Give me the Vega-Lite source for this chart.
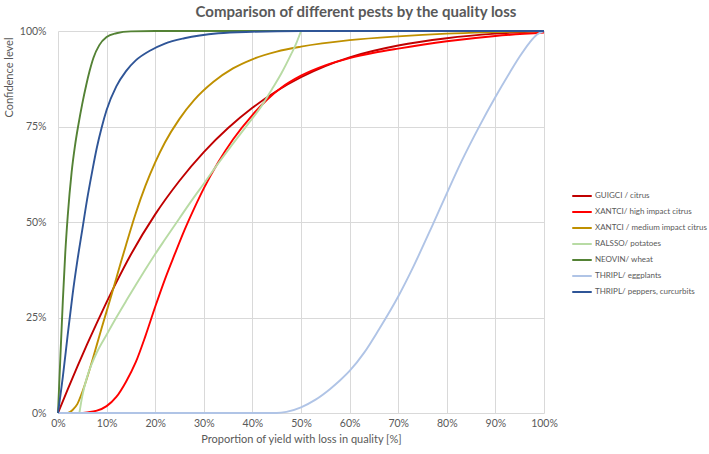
{
  "$schema": "https://vega.github.io/schema/vega-lite/v6.json",
  "width": 486,
  "height": 382,
  "autosize": {"type": "none"},
  "padding": {"left": 58, "top": 31, "right": 165, "bottom": 41},
  "background": "white",
  "config": {"font": "Lato", "view": {"stroke": null}},
  "title": {"text": "Comparison of different pests by the quality loss", "fontSize": 15, "fontWeight": "bold", "color": "#595959", "anchor": "middle", "dx": 55, "offset": 6},
  "datasets": {
    "curves": [
      {"s": "GUIGCI / citrus", "x": 0, "y": 0},
      {"s": "GUIGCI / citrus", "x": 2, "y": 6.2},
      {"s": "GUIGCI / citrus", "x": 4, "y": 12.2},
      {"s": "GUIGCI / citrus", "x": 6, "y": 18},
      {"s": "GUIGCI / citrus", "x": 8, "y": 23.6},
      {"s": "GUIGCI / citrus", "x": 10, "y": 29},
      {"s": "GUIGCI / citrus", "x": 12, "y": 34.2},
      {"s": "GUIGCI / citrus", "x": 15, "y": 41.5},
      {"s": "GUIGCI / citrus", "x": 20, "y": 52},
      {"s": "GUIGCI / citrus", "x": 25, "y": 60.8},
      {"s": "GUIGCI / citrus", "x": 30, "y": 68.3},
      {"s": "GUIGCI / citrus", "x": 35, "y": 74.6},
      {"s": "GUIGCI / citrus", "x": 40, "y": 79.9},
      {"s": "GUIGCI / citrus", "x": 45, "y": 84.3},
      {"s": "GUIGCI / citrus", "x": 50, "y": 87.9},
      {"s": "GUIGCI / citrus", "x": 55, "y": 90.8},
      {"s": "GUIGCI / citrus", "x": 60, "y": 93.1},
      {"s": "GUIGCI / citrus", "x": 70, "y": 96.2},
      {"s": "GUIGCI / citrus", "x": 80, "y": 98.1},
      {"s": "GUIGCI / citrus", "x": 90, "y": 99.3},
      {"s": "GUIGCI / citrus", "x": 100, "y": 100},

      {"s": "XANTCI/ high impact citrus", "x": 0, "y": 0},
      {"s": "XANTCI/ high impact citrus", "x": 4.5, "y": 0},
      {"s": "XANTCI/ high impact citrus", "x": 6, "y": 0.15},
      {"s": "XANTCI/ high impact citrus", "x": 8, "y": 0.6},
      {"s": "XANTCI/ high impact citrus", "x": 10, "y": 1.8},
      {"s": "XANTCI/ high impact citrus", "x": 12, "y": 4.2},
      {"s": "XANTCI/ high impact citrus", "x": 14, "y": 8.2},
      {"s": "XANTCI/ high impact citrus", "x": 16, "y": 13.3},
      {"s": "XANTCI/ high impact citrus", "x": 18, "y": 20.2},
      {"s": "XANTCI/ high impact citrus", "x": 20, "y": 27.8},
      {"s": "XANTCI/ high impact citrus", "x": 22, "y": 35},
      {"s": "XANTCI/ high impact citrus", "x": 24, "y": 41.5},
      {"s": "XANTCI/ high impact citrus", "x": 26, "y": 47.8},
      {"s": "XANTCI/ high impact citrus", "x": 28, "y": 53.5},
      {"s": "XANTCI/ high impact citrus", "x": 30, "y": 58.8},
      {"s": "XANTCI/ high impact citrus", "x": 33, "y": 65.7},
      {"s": "XANTCI/ high impact citrus", "x": 36, "y": 71.6},
      {"s": "XANTCI/ high impact citrus", "x": 40, "y": 78},
      {"s": "XANTCI/ high impact citrus", "x": 43, "y": 82},
      {"s": "XANTCI/ high impact citrus", "x": 46, "y": 85.2},
      {"s": "XANTCI/ high impact citrus", "x": 50, "y": 88.3},
      {"s": "XANTCI/ high impact citrus", "x": 55, "y": 91},
      {"s": "XANTCI/ high impact citrus", "x": 60, "y": 92.9},
      {"s": "XANTCI/ high impact citrus", "x": 65, "y": 94.3},
      {"s": "XANTCI/ high impact citrus", "x": 70, "y": 95.4},
      {"s": "XANTCI/ high impact citrus", "x": 80, "y": 97.3},
      {"s": "XANTCI/ high impact citrus", "x": 90, "y": 98.7},
      {"s": "XANTCI/ high impact citrus", "x": 100, "y": 99.6},

      {"s": "XANTCI / medium impact citrus", "x": 0, "y": 0},
      {"s": "XANTCI / medium impact citrus", "x": 2, "y": 0},
      {"s": "XANTCI / medium impact citrus", "x": 3, "y": 0.8},
      {"s": "XANTCI / medium impact citrus", "x": 4, "y": 2.4},
      {"s": "XANTCI / medium impact citrus", "x": 5, "y": 5.5},
      {"s": "XANTCI / medium impact citrus", "x": 6, "y": 9.3},
      {"s": "XANTCI / medium impact citrus", "x": 7, "y": 13.5},
      {"s": "XANTCI / medium impact citrus", "x": 8, "y": 17.9},
      {"s": "XANTCI / medium impact citrus", "x": 9, "y": 22.3},
      {"s": "XANTCI / medium impact citrus", "x": 10, "y": 26.6},
      {"s": "XANTCI / medium impact citrus", "x": 11, "y": 30.9},
      {"s": "XANTCI / medium impact citrus", "x": 12, "y": 35.3},
      {"s": "XANTCI / medium impact citrus", "x": 13, "y": 39.7},
      {"s": "XANTCI / medium impact citrus", "x": 14, "y": 44},
      {"s": "XANTCI / medium impact citrus", "x": 16, "y": 52.3},
      {"s": "XANTCI / medium impact citrus", "x": 18, "y": 59.5},
      {"s": "XANTCI / medium impact citrus", "x": 20, "y": 65.6},
      {"s": "XANTCI / medium impact citrus", "x": 22, "y": 70.8},
      {"s": "XANTCI / medium impact citrus", "x": 25, "y": 77},
      {"s": "XANTCI / medium impact citrus", "x": 28, "y": 81.9},
      {"s": "XANTCI / medium impact citrus", "x": 32, "y": 86.7},
      {"s": "XANTCI / medium impact citrus", "x": 36, "y": 90.2},
      {"s": "XANTCI / medium impact citrus", "x": 40, "y": 92.6},
      {"s": "XANTCI / medium impact citrus", "x": 45, "y": 94.6},
      {"s": "XANTCI / medium impact citrus", "x": 50, "y": 95.9},
      {"s": "XANTCI / medium impact citrus", "x": 60, "y": 97.6},
      {"s": "XANTCI / medium impact citrus", "x": 70, "y": 98.6},
      {"s": "XANTCI / medium impact citrus", "x": 80, "y": 99.3},
      {"s": "XANTCI / medium impact citrus", "x": 90, "y": 99.7},
      {"s": "XANTCI / medium impact citrus", "x": 100, "y": 100},

      {"s": "RALSSO/ potatoes", "x": 4.4, "y": 0},
      {"s": "RALSSO/ potatoes", "x": 5, "y": 4.5},
      {"s": "RALSSO/ potatoes", "x": 6, "y": 9.5},
      {"s": "RALSSO/ potatoes", "x": 7, "y": 13},
      {"s": "RALSSO/ potatoes", "x": 8, "y": 15.9},
      {"s": "RALSSO/ potatoes", "x": 10, "y": 20.5},
      {"s": "RALSSO/ potatoes", "x": 12, "y": 25},
      {"s": "RALSSO/ potatoes", "x": 14, "y": 29.3},
      {"s": "RALSSO/ potatoes", "x": 16, "y": 33.5},
      {"s": "RALSSO/ potatoes", "x": 18, "y": 37.6},
      {"s": "RALSSO/ potatoes", "x": 20, "y": 41.6},
      {"s": "RALSSO/ potatoes", "x": 22, "y": 45.4},
      {"s": "RALSSO/ potatoes", "x": 25, "y": 51},
      {"s": "RALSSO/ potatoes", "x": 28, "y": 56.5},
      {"s": "RALSSO/ potatoes", "x": 30, "y": 60},
      {"s": "RALSSO/ potatoes", "x": 33, "y": 65.4},
      {"s": "RALSSO/ potatoes", "x": 36, "y": 70.5},
      {"s": "RALSSO/ potatoes", "x": 39, "y": 75.5},
      {"s": "RALSSO/ potatoes", "x": 42, "y": 80.6},
      {"s": "RALSSO/ potatoes", "x": 44, "y": 84.7},
      {"s": "RALSSO/ potatoes", "x": 46, "y": 89},
      {"s": "RALSSO/ potatoes", "x": 48, "y": 94},
      {"s": "RALSSO/ potatoes", "x": 49, "y": 96.7},
      {"s": "RALSSO/ potatoes", "x": 50, "y": 100},

      {"s": "NEOVIN/ wheat", "x": 0, "y": 0},
      {"s": "NEOVIN/ wheat", "x": 0.5, "y": 15},
      {"s": "NEOVIN/ wheat", "x": 1, "y": 29.5},
      {"s": "NEOVIN/ wheat", "x": 1.5, "y": 42},
      {"s": "NEOVIN/ wheat", "x": 2, "y": 51.5},
      {"s": "NEOVIN/ wheat", "x": 2.8, "y": 63},
      {"s": "NEOVIN/ wheat", "x": 3.5, "y": 70},
      {"s": "NEOVIN/ wheat", "x": 4.2, "y": 75.5},
      {"s": "NEOVIN/ wheat", "x": 5, "y": 81},
      {"s": "NEOVIN/ wheat", "x": 5.8, "y": 85.8},
      {"s": "NEOVIN/ wheat", "x": 6.5, "y": 89.5},
      {"s": "NEOVIN/ wheat", "x": 7.3, "y": 93},
      {"s": "NEOVIN/ wheat", "x": 8.5, "y": 96.3},
      {"s": "NEOVIN/ wheat", "x": 10, "y": 98.4},
      {"s": "NEOVIN/ wheat", "x": 12, "y": 99.4},
      {"s": "NEOVIN/ wheat", "x": 15, "y": 99.9},
      {"s": "NEOVIN/ wheat", "x": 20, "y": 100},
      {"s": "NEOVIN/ wheat", "x": 100, "y": 100},

      {"s": "THRIPL/ eggplants", "x": 0, "y": 0},
      {"s": "THRIPL/ eggplants", "x": 45, "y": 0},
      {"s": "THRIPL/ eggplants", "x": 47, "y": 0.3},
      {"s": "THRIPL/ eggplants", "x": 50, "y": 1.5},
      {"s": "THRIPL/ eggplants", "x": 53, "y": 3.5},
      {"s": "THRIPL/ eggplants", "x": 56, "y": 6.3},
      {"s": "THRIPL/ eggplants", "x": 58, "y": 8.5},
      {"s": "THRIPL/ eggplants", "x": 60, "y": 11},
      {"s": "THRIPL/ eggplants", "x": 63, "y": 15.8},
      {"s": "THRIPL/ eggplants", "x": 66, "y": 21.8},
      {"s": "THRIPL/ eggplants", "x": 70, "y": 30.5},
      {"s": "THRIPL/ eggplants", "x": 73, "y": 38},
      {"s": "THRIPL/ eggplants", "x": 77, "y": 49},
      {"s": "THRIPL/ eggplants", "x": 80, "y": 57.5},
      {"s": "THRIPL/ eggplants", "x": 83, "y": 65.8},
      {"s": "THRIPL/ eggplants", "x": 86.8, "y": 75.3},
      {"s": "THRIPL/ eggplants", "x": 90, "y": 82.7},
      {"s": "THRIPL/ eggplants", "x": 93, "y": 89.2},
      {"s": "THRIPL/ eggplants", "x": 95, "y": 93.3},
      {"s": "THRIPL/ eggplants", "x": 97, "y": 96.9},
      {"s": "THRIPL/ eggplants", "x": 98.5, "y": 99},
      {"s": "THRIPL/ eggplants", "x": 100, "y": 100},

      {"s": "THRIPL/ peppers, curcurbits", "x": 0, "y": 0},
      {"s": "THRIPL/ peppers, curcurbits", "x": 1, "y": 9.5},
      {"s": "THRIPL/ peppers, curcurbits", "x": 2, "y": 20.5},
      {"s": "THRIPL/ peppers, curcurbits", "x": 3, "y": 31},
      {"s": "THRIPL/ peppers, curcurbits", "x": 4, "y": 40},
      {"s": "THRIPL/ peppers, curcurbits", "x": 5, "y": 48},
      {"s": "THRIPL/ peppers, curcurbits", "x": 6, "y": 56},
      {"s": "THRIPL/ peppers, curcurbits", "x": 7, "y": 63},
      {"s": "THRIPL/ peppers, curcurbits", "x": 8, "y": 69.5},
      {"s": "THRIPL/ peppers, curcurbits", "x": 9, "y": 74.8},
      {"s": "THRIPL/ peppers, curcurbits", "x": 10, "y": 79.3},
      {"s": "THRIPL/ peppers, curcurbits", "x": 12, "y": 85.5},
      {"s": "THRIPL/ peppers, curcurbits", "x": 14, "y": 89.5},
      {"s": "THRIPL/ peppers, curcurbits", "x": 16, "y": 92.3},
      {"s": "THRIPL/ peppers, curcurbits", "x": 19, "y": 94.9},
      {"s": "THRIPL/ peppers, curcurbits", "x": 22, "y": 96.7},
      {"s": "THRIPL/ peppers, curcurbits", "x": 26, "y": 98.1},
      {"s": "THRIPL/ peppers, curcurbits", "x": 33, "y": 99.4},
      {"s": "THRIPL/ peppers, curcurbits", "x": 40, "y": 99.8},
      {"s": "THRIPL/ peppers, curcurbits", "x": 50, "y": 100},
      {"s": "THRIPL/ peppers, curcurbits", "x": 100, "y": 100}
    ]
  },
  "data": {"name": "curves"},
  "mark": {"type": "line", "interpolate": "monotone", "strokeWidth": 1.9},
  "encoding": {
    "x": {
      "field": "x", "type": "quantitative",
      "scale": {"domain": [0, 100], "nice": false, "zero": true},
      "axis": {
        "values": [0, 10, 20, 30, 40, 50, 60, 70, 80, 90, 100],
        "labelExpr": "datum.value + '%'",
        "labelFlush": false,
        "title": "Proportion of yield with loss in quality [%]",
        "grid": true, "gridColor": "#d9d9d9", "gridWidth": 1,
        "domain": false, "ticks": false,
        "labelPadding": 5, "labelFontSize": 10.5, "labelColor": "#595959",
        "titleColor": "#595959", "titleFontSize": 11, "titleFontWeight": "normal", "titlePadding": 5
      }
    },
    "y": {
      "field": "y", "type": "quantitative",
      "scale": {"domain": [0, 100], "nice": false},
      "axis": {
        "values": [0, 25, 50, 75, 100],
        "labelExpr": "datum.value + '%'",
        "labelFlush": false,
        "title": "Confidence level",
        "titleAnchor": "end",
        "titleY": 6,
        "grid": true, "gridColor": "#d9d9d9", "gridWidth": 1,
        "domain": false, "ticks": false,
        "labelPadding": 12, "labelFontSize": 10.5, "labelColor": "#595959",
        "titleColor": "#595959", "titleFontSize": 11, "titleFontWeight": "normal", "titlePadding": 5
      }
    },
    "color": {
      "field": "s", "type": "nominal", "sort": null,
      "scale": {
        "domain": ["GUIGCI / citrus", "XANTCI/ high impact citrus", "XANTCI / medium impact citrus", "RALSSO/ potatoes", "NEOVIN/ wheat", "THRIPL/ eggplants", "THRIPL/ peppers, curcurbits"],
        "range": ["#C00000", "#FF0000", "#BF9000", "#B8DBA4", "#548235", "#B0C4E6", "#2F5597"]
      },
      "legend": {
        "title": null, "orient": "none", "legendX": 513, "legendY": 154,
        "symbolType": "stroke", "symbolSize": 380, "symbolStrokeWidth": 2,
        "labelFontSize": 8, "labelColor": "#595959", "labelOffset": 2,
        "rowPadding": 1
      }
    }
  }
}
